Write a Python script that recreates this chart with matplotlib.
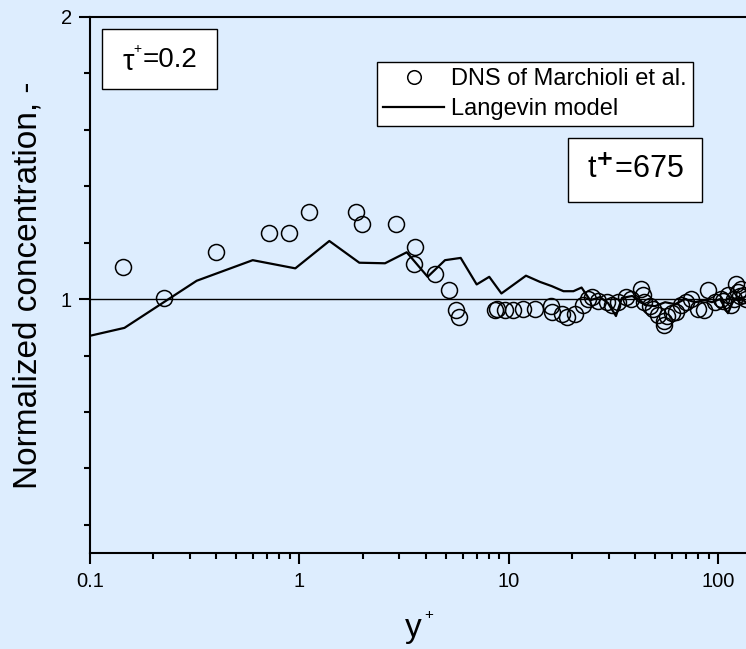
import matplotlib
matplotlib.use("Agg")
import matplotlib.pyplot as plt
from matplotlib.patches import Rectangle
from matplotlib.ticker import FixedLocator, NullFormatter

plt.rcParams['font.family'] = ['Liberation Sans', 'DejaVu Sans']

# DNS of Marchioli et al. (y+, normalized concentration)
dns_y = [0.143, 0.225, 0.398, 0.715, 0.894, 1.114, 1.86, 1.99, 2.89, 3.56,
         3.53, 4.44, 5.15, 5.57, 5.79, 8.58, 8.74, 9.57, 10.4, 11.7,
         13.31, 15.81, 15.99, 17.85, 18.86, 20.65, 22.63, 23.9, 24.8, 26.7,
         29.3, 30.9, 33.0, 36.2, 38.2, 42.7, 43.5, 44.3, 47.0, 48.5,
         51.3, 55.1, 55.1, 57.0, 60.0, 62.7, 66.2, 70.0, 73.9, 79.6,
         85.5, 88.8, 96.0, 102.8, 105.0, 110.6, 114.7, 118.0, 121.2, 123.5,
         126.0, 128.1, 132.8, 135.0]
dns_c = [1.115, 1.005, 1.168, 1.235, 1.235, 1.31, 1.307, 1.265, 1.266, 1.186,
         1.124, 1.088, 1.032, 0.961, 0.937, 0.961, 0.966, 0.962, 0.962, 0.966,
         0.966, 0.974, 0.954, 0.948, 0.936, 0.948, 0.978, 1.001, 1.007, 0.995,
         0.989, 0.978, 0.989, 1.007, 1.001, 1.037, 1.013, 0.989, 0.975, 0.966,
         0.942, 0.924, 0.907, 0.940, 0.950, 0.954, 0.978, 0.989, 1.001, 0.966,
         0.960, 1.031, 0.990, 1.001, 0.995, 1.013, 0.978, 1.000, 1.054, 1.025,
         1.010, 1.037, 1.013, 1.000]

# Langevin model
lang_y = [0.1, 0.146, 0.323, 0.598, 0.955, 1.388, 1.93, 2.56, 3.25, 4.09,
          4.95, 5.88, 7.01, 8.05, 9.2, 12.05, 14.06, 16.0, 18.2, 20.3,
          22.2, 24.4, 27.2, 29.7, 32.4, 34.6, 38.7, 42.2, 44.6, 49.8,
          55.6, 62.0, 69.2, 77.2, 86.2, 93.1, 101.7, 111.0, 118.6, 126.6,
          135.3]
lang_c = [0.870, 0.898, 1.065, 1.138, 1.109, 1.206, 1.129, 1.127, 1.166, 1.079,
          1.138, 1.146, 1.052, 1.079, 1.020, 1.083, 1.061, 1.046, 1.028, 1.028,
          1.041, 0.996, 1.007, 0.986, 0.940, 1.004, 1.011, 0.996, 0.979, 0.975,
          0.989, 0.982, 1.000, 0.989, 0.996, 0.989, 1.000, 0.950, 1.000, 1.004,
          0.989]

bg = '#DDEDFE'
fig = plt.figure(figsize=(7.46, 6.49), dpi=100, facecolor=bg)
ax = fig.add_axes([90/746, 1-553/649, 656/746, 536/649])
ax.set_facecolor(bg)

ax.axhline(1.0, color='black', lw=1.0, zorder=1)
ax.plot(dns_y, dns_c, 'o', mfc='none', mec='black', ms=11.5, mew=1.1,
        label='DNS of Marchioli et al.', zorder=3)
ax.plot(lang_y, lang_c, '-', color='black', lw=1.6, label='Langevin model', zorder=2)

ax.set_xscale('log')
ax.set_xlim(0.1, 135.3)
ax.set_ylim(0.1, 2.0)

ax.xaxis.set_major_locator(FixedLocator([0.1, 1, 10, 100]))
ax.set_xticklabels(['0.1', '1', '10', '100'])
ax.xaxis.set_minor_locator(FixedLocator([m * 10.0**e for e in (-1, 0, 1, 2) for m in range(2, 10)]))
ax.xaxis.set_minor_formatter(NullFormatter())
ax.yaxis.set_major_locator(FixedLocator([1, 2]))
ax.set_yticklabels(['1', '2'])
ax.yaxis.set_minor_locator(FixedLocator([0.2, 0.4, 0.6, 0.8, 1.2, 1.4, 1.6, 1.8]))

ax.tick_params(which='major', direction='out', length=8, width=1.5, labelsize=14.5, pad=5)
ax.tick_params(which='minor', direction='out', length=4.5, width=1.5)
ax.tick_params(axis='x', which='major', pad=6)
ax.tick_params(top=False, right=False)
for s in ['left', 'bottom', 'top']:
    ax.spines[s].set_linewidth(1.5)
ax.spines['right'].set_visible(False)

leg = ax.legend(loc='upper left', bbox_to_anchor=(377/746, 1-62/649),
                bbox_transform=fig.transFigure, fontsize=17, frameon=True,
                fancybox=False, edgecolor='black', framealpha=1,
                handlelength=2.6, handletextpad=0.3, borderpad=0.25,
                labelspacing=0.35, borderaxespad=0, markerscale=0.85)
leg.get_frame().set_linewidth(1.0)

# annotation boxes
fig.add_artist(Rectangle((102/746, 1-89/649), 115/746, 60/649, transform=fig.transFigure,
                         facecolor='white', edgecolor='black', lw=1.0))
fig.text(128/746, 1-62/649, 'τ', fontsize=21, ha='center', va='center')
fig.text(137/746, 1-49/649, '+', fontsize=10, ha='center', va='center')
fig.text(170/746, 1-60/649, '=0.2', fontsize=20, ha='center', va='center')
fig.add_artist(Rectangle((568/746, 1-202/649), 134/746, 64/649, transform=fig.transFigure,
                         facecolor='white', edgecolor='black', lw=1.0))
fig.text(635/746, 1-170/649, 't$^{\\mathbf{+}}$=675', fontsize=22, ha='center', va='center')

fig.text(413/746, 1-628/649, 'y', fontsize=24, ha='center', va='center')
fig.text(429/746, 1-615/649, '+', fontsize=11, ha='center', va='center')
fig.text(28/746, 1-285/649, 'Normalized concentration, -', fontsize=24,
         rotation=90, ha='center', va='center')

fig.savefig('out.png', dpi=100, facecolor=bg)
